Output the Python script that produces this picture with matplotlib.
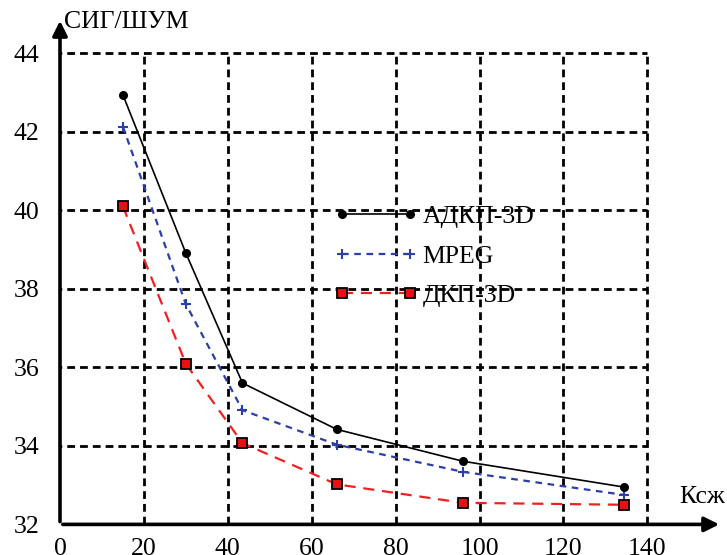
import matplotlib
matplotlib.use("Agg")
import matplotlib.pyplot as plt

# коэффициент сжатия и СИГ/ШУМ для трёх методов
ksj = [15, 30, 43.5, 66, 96, 134.5]
adkp_3d = [42.94, 38.91, 35.6, 34.42, 33.61, 32.95]
mpeg = [42.13, 37.61, 34.91, 34.03, 33.34, 32.75]
dkp_3d = [40.1, 36.09, 34.07, 33.02, 32.55, 32.5]

x_ticks = [0, 20, 40, 60, 80, 100, 120, 140]
y_ticks = [32, 34, 36, 38, 40, 42, 44]

plt.rcParams['font.family'] = ['Liberation Serif', 'DejaVu Serif']
fs = 18.5

fig = plt.figure(figsize=(7.27, 5.55), dpi=100)
ax = fig.add_axes([60/727, (555-524.4)/555, (722-60)/727, (524.4-18)/555])
ax.set_xlim(0, 157.8)
ax.set_ylim(32, 44.9)
for s in ax.spines.values():
    s.set_visible(False)

# сетка
grid_style = dict(color='black', lw=2, linestyle=(0, (2.8, 1.8)), zorder=1)
ax.hlines(y_ticks[1:], -1.5, 140, **grid_style)
ax.vlines(x_ticks[1:], 32, 44, **grid_style)

# оси со стрелками
ax.annotate('', xy=(1, 0), xytext=(0, 0), xycoords='axes fraction',
            arrowprops=dict(arrowstyle='-|>', lw=2.6, color='black', mutation_scale=22))
ax.annotate('', xy=(0, 1), xytext=(0, 0), xycoords='axes fraction',
            arrowprops=dict(arrowstyle='-|>', lw=2.6, color='black', mutation_scale=22))

ax.plot(ksj, adkp_3d, color='black', lw=1.2, marker='o', ms=5.5, label='АДКП-3D', zorder=4)
ax.plot(ksj, mpeg, color='#2c3fa8', lw=1.6, linestyle=(0, (3, 2.5)), marker='+', ms=7, mew=1.5,
        label='MPEG', zorder=3)
ax.plot(ksj, dkp_3d, color='#f02020', lw=1.6, linestyle=(0, (5, 3.5)), marker='s', ms=6.5,
        mfc='#e81010', mec='black', mew=1.3, label='ДКП-3D', zorder=3)

ax.set_xticks(x_ticks)
ax.set_yticks(y_ticks)
ax.tick_params(axis='both', labelsize=fs, length=0, pad=10)
ax.tick_params(axis='y', pad=15)

leg = ax.legend(loc='upper left', bbox_to_anchor=(321/727, (555-192)/555),
                bbox_transform=fig.transFigure, frameon=False, fontsize=fs,
                numpoints=2, handlelength=3.25, handletextpad=0.2, labelspacing=0.65,
                borderpad=0)

fig.text(64/727, (555-22)/555, 'СИГ/ШУМ', fontsize=fs, va='center', ha='left')
fig.text(679/727, (555-497)/555, 'Ксж', fontsize=fs, va='center', ha='left')

fig.savefig('out.png', dpi=100)
